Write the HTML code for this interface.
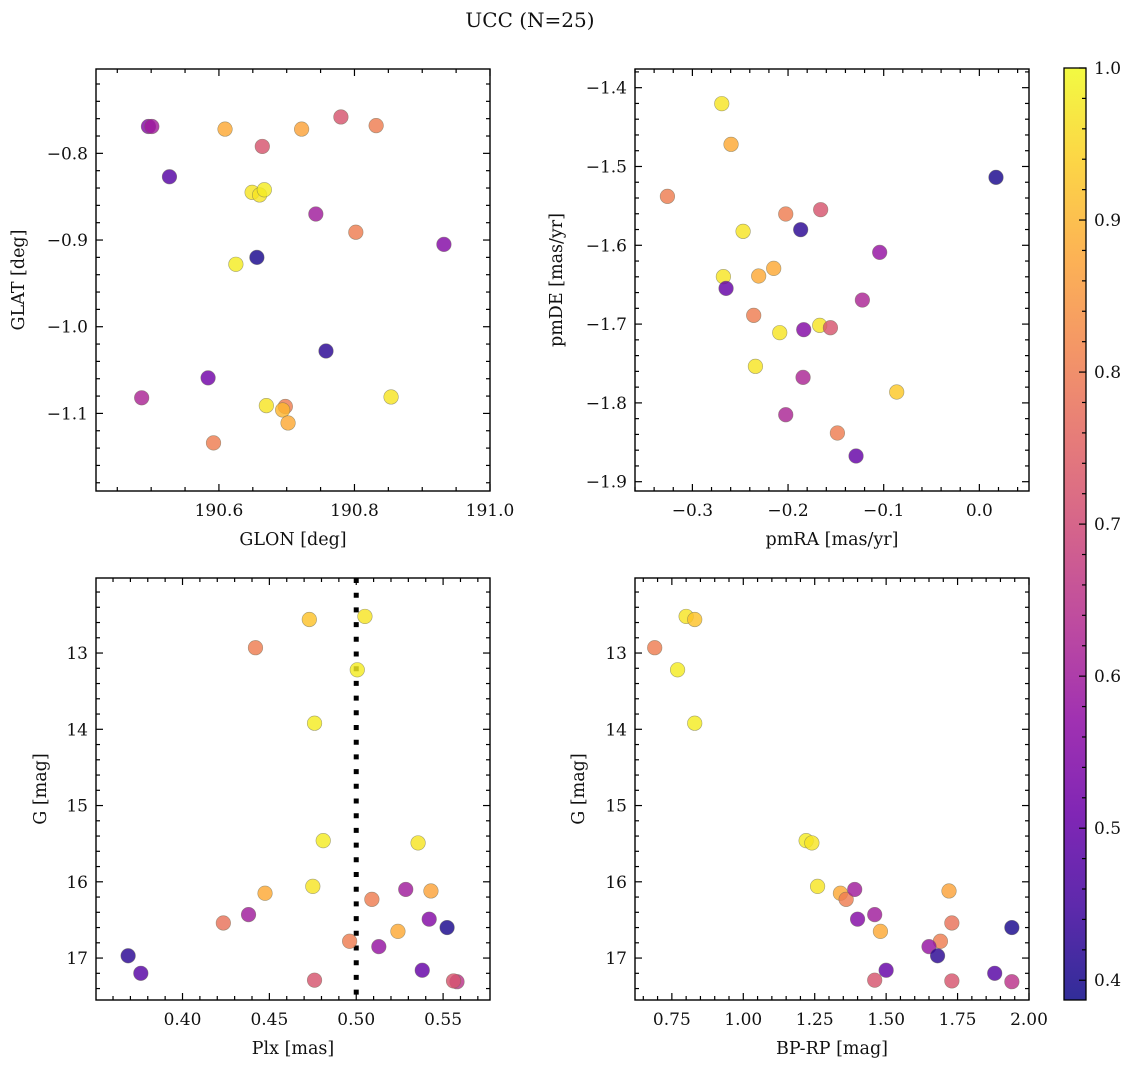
<!DOCTYPE html>
<html><head><meta charset="utf-8">
<style>
html,body{margin:0;padding:0;background:#fff}
svg{display:block;font-family:"DejaVu Serif","Liberation Serif",serif}
</style></head>
<body>
<svg id="fig" width="1136" height="1068" viewBox="0 0 1136 1068" xmlns="http://www.w3.org/2000/svg">
<text x="530" y="27" font-size="20" text-anchor="middle" fill="#111">UCC (N=25)</text>
</svg>
<script>
// ---- data ----
const glon = [190.496,190.501,190.609,190.722,190.780,190.832,190.664,190.527,190.649,190.660,190.667,190.743,190.802,190.932,190.625,190.656,190.758,190.584,190.486,190.854,190.670,190.698,190.694,190.702,190.592];
const glat = [-0.769,-0.769,-0.772,-0.772,-0.758,-0.768,-0.792,-0.827,-0.845,-0.848,-0.842,-0.870,-0.891,-0.905,-0.928,-0.920,-1.028,-1.059,-1.082,-1.081,-1.091,-1.092,-1.096,-1.111,-1.134];
const probTL = [0.55,0.6,0.88,0.87,0.72,0.8,0.72,0.48,0.97,0.97,0.98,0.6,0.8,0.55,0.98,0.4,0.42,0.52,0.62,0.97,0.97,0.8,0.9,0.88,0.8];

const pmra = [-0.2693,-0.2596,-0.3261,0.0174,-0.2024,-0.1659,-0.1868,-0.2470,-0.1042,-0.2676,-0.2648,-0.2307,-0.2150,-0.1223,-0.2359,-0.2087,-0.1836,-0.1669,-0.1557,-0.2341,-0.1843,-0.0864,-0.2024,-0.1484,-0.1289];
const pmde = [-1.4203,-1.4719,-1.5379,-1.5138,-1.5603,-1.5548,-1.5802,-1.5823,-1.6090,-1.6398,-1.6547,-1.6390,-1.6293,-1.6695,-1.6889,-1.7109,-1.7071,-1.7016,-1.7046,-1.7536,-1.7676,-1.7862,-1.8150,-1.8382,-1.8674];
const probTR = [0.97,0.88,0.8,0.4,0.8,0.72,0.42,0.97,0.58,0.97,0.5,0.88,0.88,0.62,0.8,0.97,0.55,0.97,0.72,0.97,0.62,0.93,0.62,0.8,0.5];

const plx  = [0.505,0.473,0.442,0.5006,0.476,0.481,0.5356,0.475,0.4475,0.509,0.5285,0.542,0.438,0.524,0.538,0.476,0.543,0.4235,0.4962,0.513,0.3687,0.5523,0.376,0.558,0.556];
const gmag = [12.52,12.56,12.93,13.22,13.92,15.46,15.49,16.06,16.15,16.23,16.10,16.49,16.43,16.65,17.16,17.29,16.12,16.54,16.78,16.85,16.97,16.60,17.20,17.31,17.30];
const bprp = [0.80,0.83,0.69,0.77,0.83,1.22,1.24,1.26,1.34,1.36,1.39,1.40,1.46,1.48,1.50,1.46,1.72,1.73,1.69,1.65,1.68,1.94,1.88,1.94,1.73];
const probB = [0.97,0.92,0.8,0.98,0.98,0.98,0.97,0.97,0.88,0.8,0.6,0.55,0.6,0.88,0.5,0.72,0.87,0.78,0.8,0.58,0.42,0.4,0.48,0.65,0.72];

const cbTicks = [0.4,0.5,0.6,0.7,0.8,0.9,1.0];
const plxLine = [0.5];

// ---- helpers ----
const NS="http://www.w3.org/2000/svg";
const svg=document.getElementById('fig');
function mk(tag,attrs,parent){const e=document.createElementNS(NS,tag);for(const k in attrs)e.setAttribute(k,attrs[k]);(parent||svg).appendChild(e);return e;}
const VMIN=0.387, VMAX=1.0;
const stops=["#0d0887","#41049d","#6a00a8","#8f0da4","#b12a90","#cc4778","#e16462","#f2844b","#fca636","#fcce25","#f0f921"];
function hex(h){return [parseInt(h.substr(1,2),16),parseInt(h.substr(3,2),16),parseInt(h.substr(5,2),16)];}
function plasma(t){t=Math.max(0,Math.min(1,t));const p=t*10,i=Math.min(9,Math.floor(p)),f=p-i;const a=hex(stops[i]),b=hex(stops[i+1]);
 return 'rgb('+a.map((v,k)=>Math.round(v+(b[k]-v)*f)).join(',')+')';}
function cmap(v){return plasma((v-VMIN)/(VMAX-VMIN));}
function fmt(v,d){const s=v.toFixed(d);return v<0?'\u2212'+s.slice(1):s;}

function panel(o){
 const g=mk('g',{});
 
 
 const X=v=>o.x0+(v-o.xmin)/(o.xmax-o.xmin)*(o.x1-o.x0);
 const Y=o.yinv? v=>o.y0+(v-o.ymin)/(o.ymax-o.ymin)*(o.y1-o.y0) : v=>o.y1-(v-o.ymin)/(o.ymax-o.ymin)*(o.y1-o.y0);
 const tk=mk('g',{stroke:'#000','stroke-width':1.2},g);
 
 
 const eps=1e-6;
 for(let v=Math.ceil(o.xmin/o.xminor-eps)*o.xminor; v<=o.xmax+eps; v+=o.xminor){
  const isMaj=Math.abs(v/o.xmajor-Math.round(v/o.xmajor))<1e-6, L=isMaj?7:4, px=X(v);
  mk('line',{x1:px,x2:px,y1:o.y1,y2:o.y1-L},tk);mk('line',{x1:px,x2:px,y1:o.y0,y2:o.y0+L},tk);
  if(isMaj){const t=mk('text',{x:px,y:o.y1+25,'font-size':17,'text-anchor':'middle',fill:'#111',stroke:'none'},g);t.textContent=fmt(v,o.xd);
   }
 }
 for(let v=Math.ceil(o.ymin/o.yminor-eps)*o.yminor; v<=o.ymax+eps; v+=o.yminor){
  const isMaj=Math.abs(v/o.ymajor-Math.round(v/o.ymajor))<1e-6, L=isMaj?7:4, py=Y(v);
  mk('line',{x1:o.x0,x2:o.x0+L,y1:py,y2:py},tk);mk('line',{x1:o.x1,x2:o.x1-L,y1:py,y2:py},tk);
  if(isMaj){const t=mk('text',{x:o.x0-8,y:py+6,'font-size':17,'text-anchor':'end',fill:'#111',stroke:'none'},g);t.textContent=fmt(v,o.yd);
   }
 }
 if(o.vline){o.vline.forEach(v=>{const l=mk('line',{x1:X(v),x2:X(v),y1:o.y0,y2:o.y1,stroke:'#000','stroke-width':5,'stroke-dasharray':'5 9.7'},g);
  });}
 const pts=mk('g',{},g);
 
 
 for(let i=0;i<o.xs.length;i++){
  const c=mk('circle',{cx:X(o.xs[i]),cy:Y(o.ys[i]),r:7.3,fill:cmap(o.cs[i]),'fill-opacity':0.82,stroke:'#6a6a55','stroke-opacity':0.6,'stroke-width':0.6},pts);
  
  
 }
 const fr=mk('rect',{x:o.x0,y:o.y0,width:o.x1-o.x0,height:o.y1-o.y0,fill:'none',stroke:'#000','stroke-width':1.4},g);
 
 const xl=mk('text',{x:(o.x0+o.x1)/2,y:o.y1+54,'font-size':17.5,'text-anchor':'middle',fill:'#111'},g);xl.textContent=o.xlabel;
 
 const yx=o.ylx, yy=(o.y0+o.y1)/2;
 const yl=mk('text',{x:yx,y:yy,'font-size':17.5,'text-anchor':'middle',fill:'#111',transform:`rotate(-90 ${yx} ${yy})`},g);yl.textContent=o.ylabel;
 
}

panel({name:'glon-glat-panel',x0:96,x1:490,y0:69,y1:491,xmin:190.4186,xmax:191.0,ymin:-1.1895,ymax:-0.7027,
 xmajor:0.2,xminor:0.05,ymajor:0.1,yminor:0.02,xd:1,yd:1,xs:glon,ys:glat,cs:probTL,xlabel:'GLON [deg]',ylabel:'GLAT [deg]',ylx:24});
panel({name:'pm-panel',x0:635,x1:1029,y0:69,y1:491,xmin:-0.360,xmax:0.0519,ymin:-1.9118,ymax:-1.3763,
 xmajor:0.1,xminor:0.02,ymajor:0.1,yminor:0.02,xd:1,yd:1,xs:pmra,ys:pmde,cs:probTR,xlabel:'pmRA [mas/yr]',ylabel:'pmDE [mas/yr]',ylx:562});
panel({name:'plx-g-panel',x0:96,x1:490,y0:578,y1:1000,xmin:0.3502,xmax:0.577,ymin:12.016,ymax:17.55,yinv:true,
 xmajor:0.05,xminor:0.01,ymajor:1,yminor:0.2,xd:2,yd:0,xs:plx,ys:gmag,cs:probB,xlabel:'Plx [mas]',ylabel:'G [mag]',ylx:46,vline:plxLine});
panel({name:'cmd-panel',x0:635,x1:1029,y0:578,y1:1000,xmin:0.621,xmax:2.0,ymin:12.016,ymax:17.55,yinv:true,
 xmajor:0.25,xminor:0.05,ymajor:1,yminor:0.2,xd:2,yd:0,xs:bprp,ys:gmag,cs:probB,xlabel:'BP-RP [mag]',ylabel:'G [mag]',ylx:584});

// ---- colorbar ----
const cb=mk('g',{});


const defs=mk('defs',{},cb);
const grad=mk('linearGradient',{id:'cbg',x1:0,y1:1,x2:0,y2:0},defs);
for(let i=0;i<=20;i++){const t=i/20;mk('stop',{offset:t,'stop-color':cmap(VMIN+t*(VMAX-VMIN)),'stop-opacity':0.85},grad);}
const CX0=1064,CX1=1086,CY0=68,CY1=1000;
const CY=v=>CY1-(v-VMIN)/(VMAX-VMIN)*(CY1-CY0);
mk('rect',{x:CX0,y:CY0,width:CX1-CX0,height:CY1-CY0,fill:'url(#cbg)'},cb);
for(let v=0.4;v<=1.0001;v+=0.02){const maj=Math.abs(v*10-Math.round(v*10))<1e-6;const py=CY(v);
 mk('line',{x1:CX1,x2:CX1-(maj?7:4),y1:py,y2:py,stroke:'#000','stroke-width':1.2},cb);}
cbTicks.forEach(v=>{const t=mk('text',{x:CX1+8,y:CY(v)+6,'font-size':17,fill:'#111'},cb);t.textContent=v.toFixed(1);
 });
mk('rect',{x:CX0,y:CY0,width:CX1-CX0,height:CY1-CY0,fill:'none',stroke:'#000','stroke-width':1.3},cb);
</script>
</body></html>
